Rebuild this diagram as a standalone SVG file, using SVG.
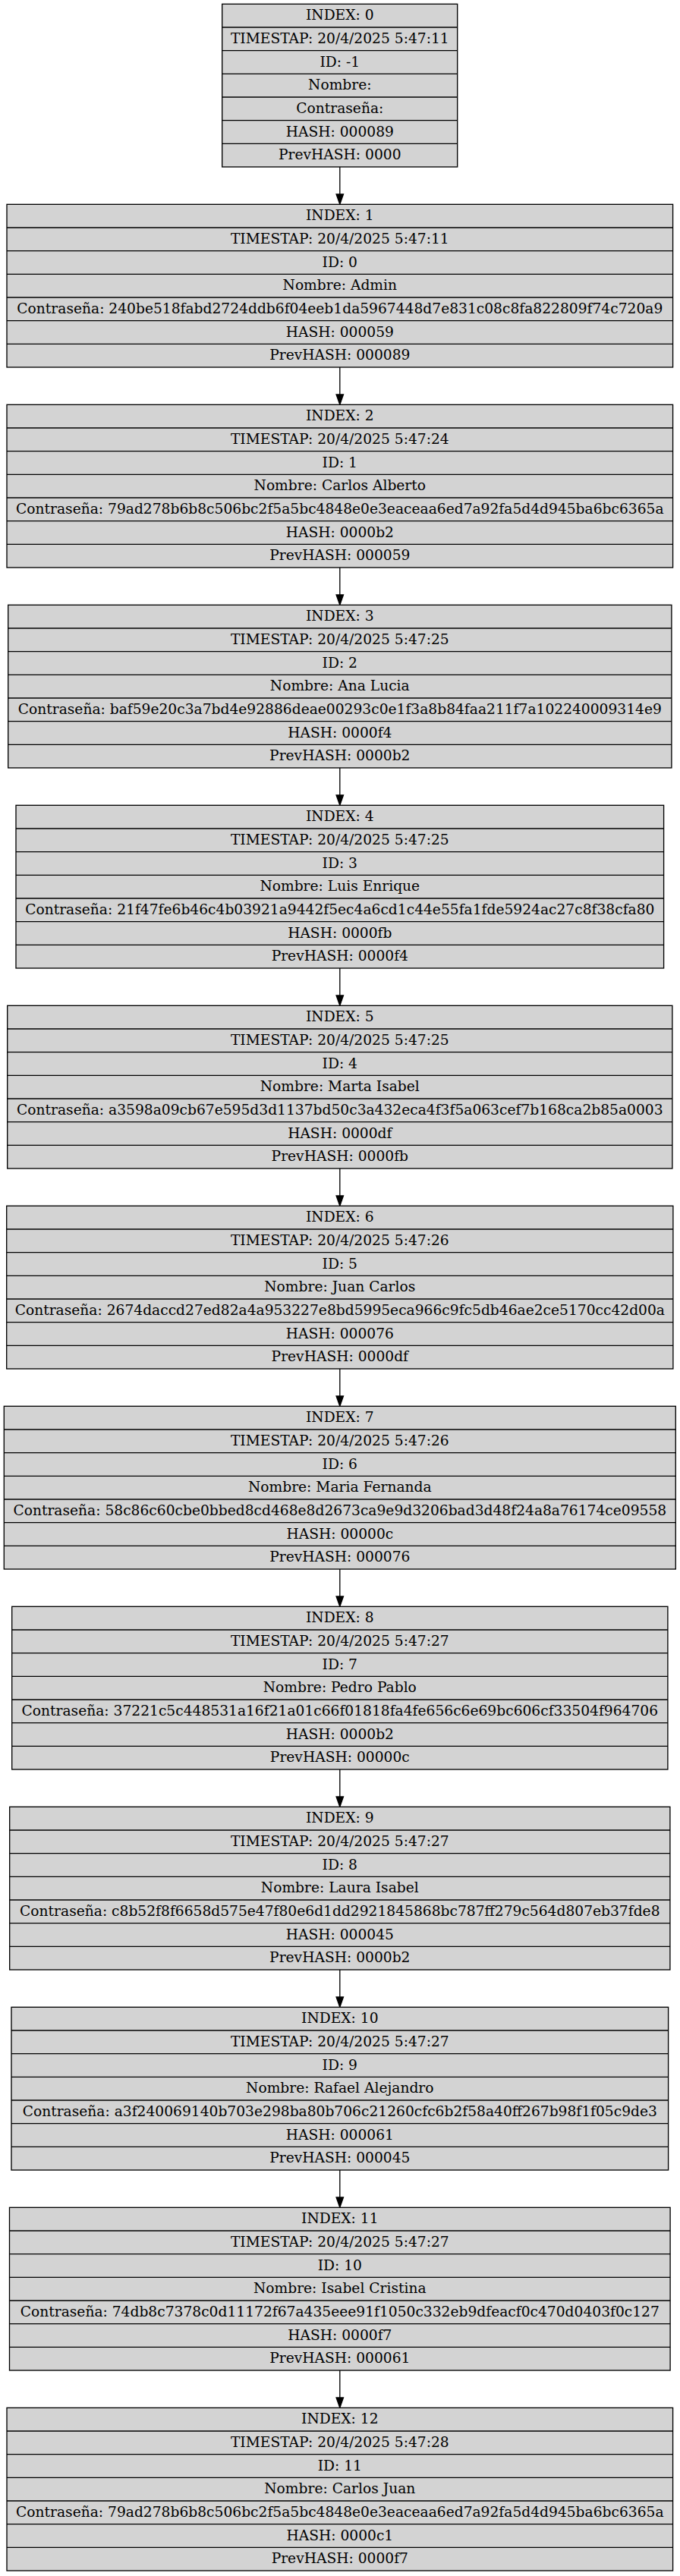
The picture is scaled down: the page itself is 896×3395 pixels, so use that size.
<svg xmlns="http://www.w3.org/2000/svg" width="896" height="3395" viewBox="0 0 896 3395">
<style>
.box{fill:#d3d3d3;stroke:#000;stroke-width:1.33}
.sep{fill:none;stroke:#000;stroke-width:1.33}
text{font-family:"DejaVu Serif","Liberation Serif",serif;font-size:18.67px;fill:#000;text-anchor:middle}
.edge{fill:none;stroke:#000;stroke-width:1.33}
.head{fill:#000;stroke:#000;stroke-width:1.33}
</style>
<rect x="0" y="0" width="896" height="3395" fill="#fff"/>
<g id="connectors">
<path class="edge" d="M447.8,220V256"/><polygon class="head" points="443.13,256 447.8,269.33 452.47,256"/>
<path class="edge" d="M447.8,484V520"/><polygon class="head" points="443.13,520 447.8,533.33 452.47,520"/>
<path class="edge" d="M447.8,748V784"/><polygon class="head" points="443.13,784 447.8,797.33 452.47,784"/>
<path class="edge" d="M447.8,1012V1048"/><polygon class="head" points="443.13,1048 447.8,1061.33 452.47,1048"/>
<path class="edge" d="M447.8,1276V1312"/><polygon class="head" points="443.13,1312 447.8,1325.33 452.47,1312"/>
<path class="edge" d="M447.8,1540V1576"/><polygon class="head" points="443.13,1576 447.8,1589.33 452.47,1576"/>
<path class="edge" d="M447.8,1804V1840"/><polygon class="head" points="443.13,1840 447.8,1853.33 452.47,1840"/>
<path class="edge" d="M447.8,2068V2104"/><polygon class="head" points="443.13,2104 447.8,2117.33 452.47,2104"/>
<path class="edge" d="M447.8,2332V2368"/><polygon class="head" points="443.13,2368 447.8,2381.33 452.47,2368"/>
<path class="edge" d="M447.8,2596V2632"/><polygon class="head" points="443.13,2632 447.8,2645.33 452.47,2632"/>
<path class="edge" d="M447.8,2860V2896"/><polygon class="head" points="443.13,2896 447.8,2909.33 452.47,2896"/>
<path class="edge" d="M447.8,3124V3160"/><polygon class="head" points="443.13,3160 447.8,3173.33 452.47,3160"/>
</g>
<g id="node0" transform="translate(0,5.33)">
<rect class="box" x="292.7" y="0" width="310" height="214.67"/>
<path class="sep" d="M292.7,30.67H602.7M292.7,61.33H602.7M292.7,92H602.7M292.7,122.67H602.7M292.7,153.33H602.7M292.7,184H602.7"/>
<text x="447.8" y="20.9">INDEX: 0</text>
<text x="447.8" y="51.57">TIMESTAP: 20/4/2025 5:47:11</text>
<text x="447.8" y="82.23">ID: -1</text>
<text x="447.8" y="112.9">Nombre:</text>
<text x="447.8" y="143.57">Contraseña:</text>
<text x="447.8" y="174.23">HASH: 000089</text>
<text x="447.8" y="204.9">PrevHASH: 0000</text>
</g>
<g id="node1" transform="translate(0,269.33)">
<rect class="box" x="9" y="0" width="877.6" height="214.67"/>
<path class="sep" d="M9,30.67H886.6M9,61.33H886.6M9,92H886.6M9,122.67H886.6M9,153.33H886.6M9,184H886.6"/>
<text x="447.8" y="20.9">INDEX: 1</text>
<text x="447.8" y="51.57">TIMESTAP: 20/4/2025 5:47:11</text>
<text x="447.8" y="82.23">ID: 0</text>
<text x="447.8" y="112.9">Nombre: Admin</text>
<text x="447.8" y="143.57">Contraseña: 240be518fabd2724ddb6f04eeb1da5967448d7e831c08c8fa822809f74c720a9</text>
<text x="447.8" y="174.23">HASH: 000059</text>
<text x="447.8" y="204.9">PrevHASH: 000089</text>
</g>
<g id="node2" transform="translate(0,533.33)">
<rect class="box" x="9" y="0" width="877.6" height="214.67"/>
<path class="sep" d="M9,30.67H886.6M9,61.33H886.6M9,92H886.6M9,122.67H886.6M9,153.33H886.6M9,184H886.6"/>
<text x="447.8" y="20.9">INDEX: 2</text>
<text x="447.8" y="51.57">TIMESTAP: 20/4/2025 5:47:24</text>
<text x="447.8" y="82.23">ID: 1</text>
<text x="447.8" y="112.9">Nombre: Carlos Alberto</text>
<text x="447.8" y="143.57">Contraseña: 79ad278b6b8c506bc2f5a5bc4848e0e3eaceaa6ed7a92fa5d4d945ba6bc6365a</text>
<text x="447.8" y="174.23">HASH: 0000b2</text>
<text x="447.8" y="204.9">PrevHASH: 000059</text>
</g>
<g id="node3" transform="translate(0,797.33)">
<rect class="box" x="10.7" y="0" width="874.2" height="214.67"/>
<path class="sep" d="M10.7,30.67H884.9M10.7,61.33H884.9M10.7,92H884.9M10.7,122.67H884.9M10.7,153.33H884.9M10.7,184H884.9"/>
<text x="447.8" y="20.9">INDEX: 3</text>
<text x="447.8" y="51.57">TIMESTAP: 20/4/2025 5:47:25</text>
<text x="447.8" y="82.23">ID: 2</text>
<text x="447.8" y="112.9">Nombre: Ana Lucia</text>
<text x="447.8" y="143.57">Contraseña: baf59e20c3a7bd4e92886deae00293c0e1f3a8b84faa211f7a102240009314e9</text>
<text x="447.8" y="174.23">HASH: 0000f4</text>
<text x="447.8" y="204.9">PrevHASH: 0000b2</text>
</g>
<g id="node4" transform="translate(0,1061.33)">
<rect class="box" x="21" y="0" width="853.6" height="214.67"/>
<path class="sep" d="M21,30.67H874.6M21,61.33H874.6M21,92H874.6M21,122.67H874.6M21,153.33H874.6M21,184H874.6"/>
<text x="447.8" y="20.9">INDEX: 4</text>
<text x="447.8" y="51.57">TIMESTAP: 20/4/2025 5:47:25</text>
<text x="447.8" y="82.23">ID: 3</text>
<text x="447.8" y="112.9">Nombre: Luis Enrique</text>
<text x="447.8" y="143.57">Contraseña: 21f47fe6b46c4b03921a9442f5ec4a6cd1c44e55fa1fde5924ac27c8f38cfa80</text>
<text x="447.8" y="174.23">HASH: 0000fb</text>
<text x="447.8" y="204.9">PrevHASH: 0000f4</text>
</g>
<g id="node5" transform="translate(0,1325.33)">
<rect class="box" x="9.7" y="0" width="876.2" height="214.67"/>
<path class="sep" d="M9.7,30.67H885.9M9.7,61.33H885.9M9.7,92H885.9M9.7,122.67H885.9M9.7,153.33H885.9M9.7,184H885.9"/>
<text x="447.8" y="20.9">INDEX: 5</text>
<text x="447.8" y="51.57">TIMESTAP: 20/4/2025 5:47:25</text>
<text x="447.8" y="82.23">ID: 4</text>
<text x="447.8" y="112.9">Nombre: Marta Isabel</text>
<text x="447.8" y="143.57">Contraseña: a3598a09cb67e595d3d1137bd50c3a432eca4f3f5a063cef7b168ca2b85a0003</text>
<text x="447.8" y="174.23">HASH: 0000df</text>
<text x="447.8" y="204.9">PrevHASH: 0000fb</text>
</g>
<g id="node6" transform="translate(0,1589.33)">
<rect class="box" x="8.7" y="0" width="878.2" height="214.67"/>
<path class="sep" d="M8.7,30.67H886.9M8.7,61.33H886.9M8.7,92H886.9M8.7,122.67H886.9M8.7,153.33H886.9M8.7,184H886.9"/>
<text x="447.8" y="20.9">INDEX: 6</text>
<text x="447.8" y="51.57">TIMESTAP: 20/4/2025 5:47:26</text>
<text x="447.8" y="82.23">ID: 5</text>
<text x="447.8" y="112.9">Nombre: Juan Carlos</text>
<text x="447.8" y="143.57">Contraseña: 2674daccd27ed82a4a953227e8bd5995eca966c9fc5db46ae2ce5170cc42d00a</text>
<text x="447.8" y="174.23">HASH: 000076</text>
<text x="447.8" y="204.9">PrevHASH: 0000df</text>
</g>
<g id="node7" transform="translate(0,1853.33)">
<rect class="box" x="5.3" y="0" width="885" height="214.67"/>
<path class="sep" d="M5.3,30.67H890.3M5.3,61.33H890.3M5.3,92H890.3M5.3,122.67H890.3M5.3,153.33H890.3M5.3,184H890.3"/>
<text x="447.8" y="20.9">INDEX: 7</text>
<text x="447.8" y="51.57">TIMESTAP: 20/4/2025 5:47:26</text>
<text x="447.8" y="82.23">ID: 6</text>
<text x="447.8" y="112.9">Nombre: Maria Fernanda</text>
<text x="447.8" y="143.57">Contraseña: 58c86c60cbe0bbed8cd468e8d2673ca9e9d3206bad3d48f24a8a76174ce09558</text>
<text x="447.8" y="174.23">HASH: 00000c</text>
<text x="447.8" y="204.9">PrevHASH: 000076</text>
</g>
<g id="node8" transform="translate(0,2117.33)">
<rect class="box" x="15.7" y="0" width="864.2" height="214.67"/>
<path class="sep" d="M15.7,30.67H879.9M15.7,61.33H879.9M15.7,92H879.9M15.7,122.67H879.9M15.7,153.33H879.9M15.7,184H879.9"/>
<text x="447.8" y="20.9">INDEX: 8</text>
<text x="447.8" y="51.57">TIMESTAP: 20/4/2025 5:47:27</text>
<text x="447.8" y="82.23">ID: 7</text>
<text x="447.8" y="112.9">Nombre: Pedro Pablo</text>
<text x="447.8" y="143.57">Contraseña: 37221c5c448531a16f21a01c66f01818fa4fe656c6e69bc606cf33504f964706</text>
<text x="447.8" y="174.23">HASH: 0000b2</text>
<text x="447.8" y="204.9">PrevHASH: 00000c</text>
</g>
<g id="node9" transform="translate(0,2381.33)">
<rect class="box" x="12.7" y="0" width="870.2" height="214.67"/>
<path class="sep" d="M12.7,30.67H882.9M12.7,61.33H882.9M12.7,92H882.9M12.7,122.67H882.9M12.7,153.33H882.9M12.7,184H882.9"/>
<text x="447.8" y="20.9">INDEX: 9</text>
<text x="447.8" y="51.57">TIMESTAP: 20/4/2025 5:47:27</text>
<text x="447.8" y="82.23">ID: 8</text>
<text x="447.8" y="112.9">Nombre: Laura Isabel</text>
<text x="447.8" y="143.57">Contraseña: c8b52f8f6658d575e47f80e6d1dd2921845868bc787ff279c564d807eb37fde8</text>
<text x="447.8" y="174.23">HASH: 000045</text>
<text x="447.8" y="204.9">PrevHASH: 0000b2</text>
</g>
<g id="node10" transform="translate(0,2645.33)">
<rect class="box" x="15" y="0" width="865.6" height="214.67"/>
<path class="sep" d="M15,30.67H880.6M15,61.33H880.6M15,92H880.6M15,122.67H880.6M15,153.33H880.6M15,184H880.6"/>
<text x="447.8" y="20.9">INDEX: 10</text>
<text x="447.8" y="51.57">TIMESTAP: 20/4/2025 5:47:27</text>
<text x="447.8" y="82.23">ID: 9</text>
<text x="447.8" y="112.9">Nombre: Rafael Alejandro</text>
<text x="447.8" y="143.57">Contraseña: a3f240069140b703e298ba80b706c21260cfc6b2f58a40ff267b98f1f05c9de3</text>
<text x="447.8" y="174.23">HASH: 000061</text>
<text x="447.8" y="204.9">PrevHASH: 000045</text>
</g>
<g id="node11" transform="translate(0,2909.33)">
<rect class="box" x="12.5" y="0" width="870.6" height="214.67"/>
<path class="sep" d="M12.5,30.67H883.1M12.5,61.33H883.1M12.5,92H883.1M12.5,122.67H883.1M12.5,153.33H883.1M12.5,184H883.1"/>
<text x="447.8" y="20.9">INDEX: 11</text>
<text x="447.8" y="51.57">TIMESTAP: 20/4/2025 5:47:27</text>
<text x="447.8" y="82.23">ID: 10</text>
<text x="447.8" y="112.9">Nombre: Isabel Cristina</text>
<text x="447.8" y="143.57">Contraseña: 74db8c7378c0d11172f67a435eee91f1050c332eb9dfeacf0c470d0403f0c127</text>
<text x="447.8" y="174.23">HASH: 0000f7</text>
<text x="447.8" y="204.9">PrevHASH: 000061</text>
</g>
<g id="node12" transform="translate(0,3173.33)">
<rect class="box" x="9" y="0" width="877.6" height="214.67"/>
<path class="sep" d="M9,30.67H886.6M9,61.33H886.6M9,92H886.6M9,122.67H886.6M9,153.33H886.6M9,184H886.6"/>
<text x="447.8" y="20.9">INDEX: 12</text>
<text x="447.8" y="51.57">TIMESTAP: 20/4/2025 5:47:28</text>
<text x="447.8" y="82.23">ID: 11</text>
<text x="447.8" y="112.9">Nombre: Carlos Juan</text>
<text x="447.8" y="143.57">Contraseña: 79ad278b6b8c506bc2f5a5bc4848e0e3eaceaa6ed7a92fa5d4d945ba6bc6365a</text>
<text x="447.8" y="174.23">HASH: 0000c1</text>
<text x="447.8" y="204.9">PrevHASH: 0000f7</text>
</g>
</svg>
